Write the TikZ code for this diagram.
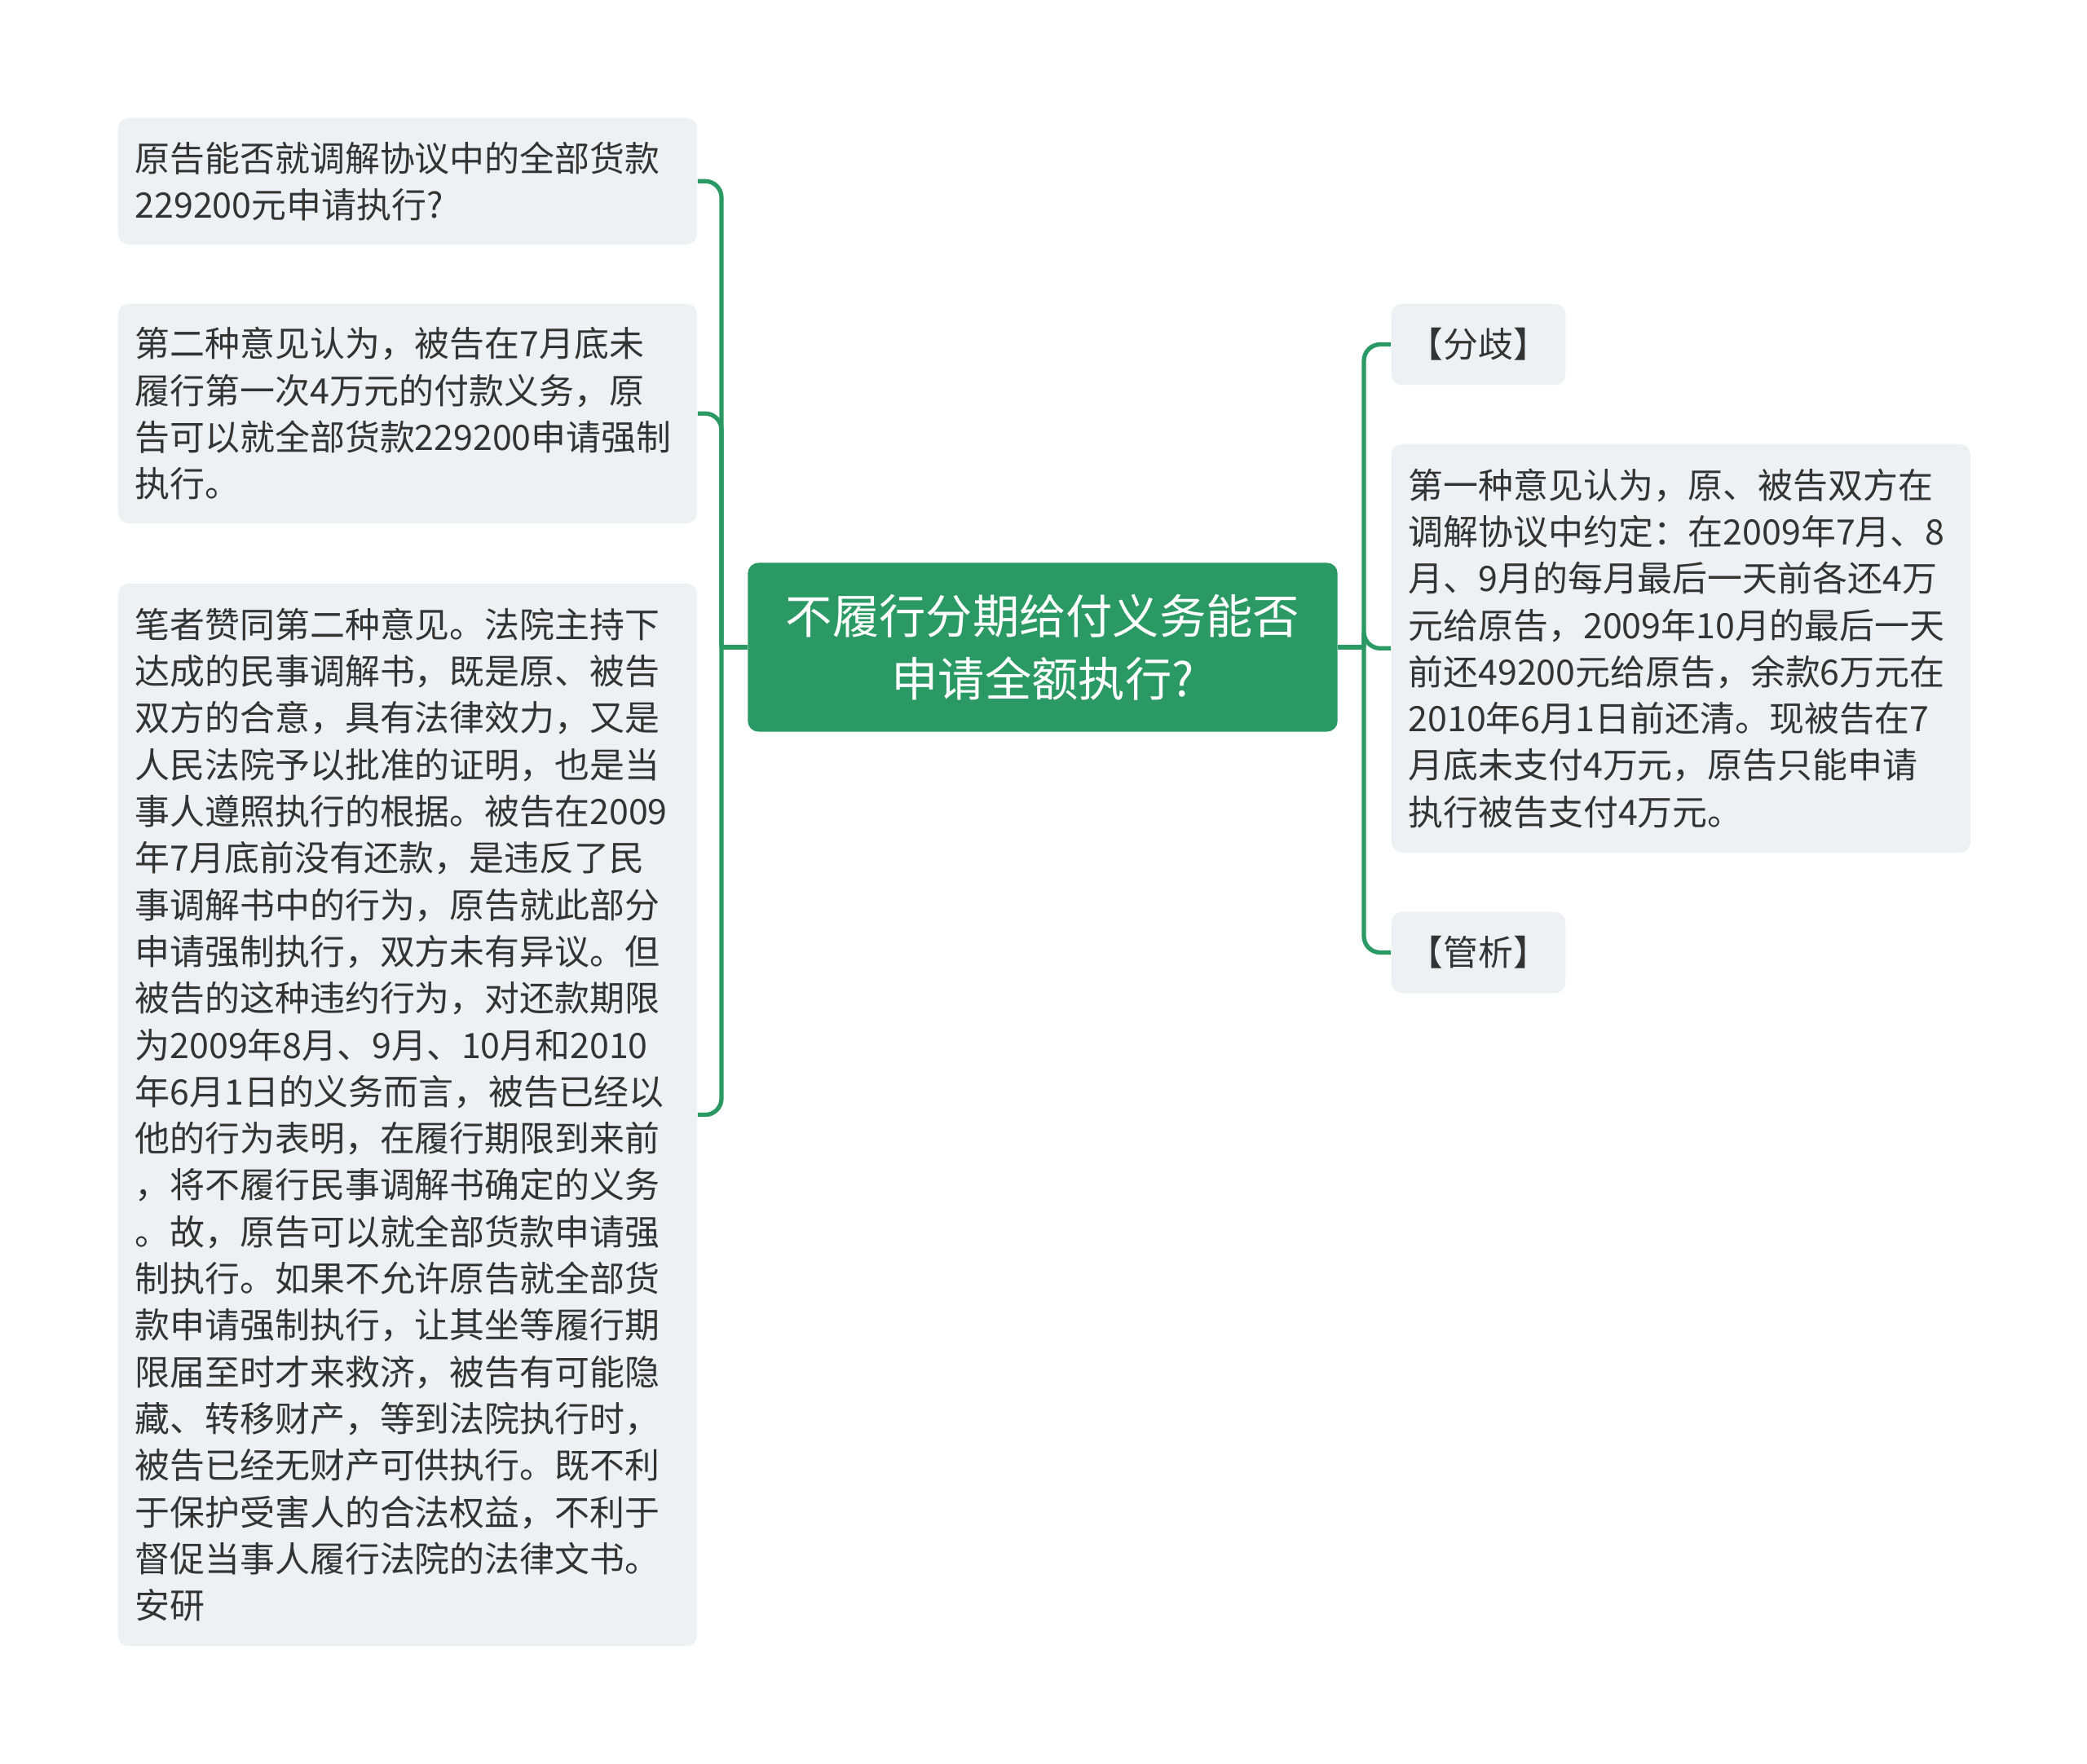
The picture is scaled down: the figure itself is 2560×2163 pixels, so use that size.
\documentclass[tikz,border=0pt]{standalone}
\usepackage{fontspec}
\setmainfont{Noto Sans CJK SC}
\usetikzlibrary{positioning}
\definecolor{mapgreen}{RGB}{42,153,99}
\definecolor{leafgray}{RGB}{238,241,244}
\definecolor{textdark}{RGB}{51,51,51}

\begin{document}
\begin{tikzpicture}[x=0.01cm,y=-0.01cm,
    topic/.style={fill=mapgreen,rounded corners=0.13cm,text=white,align=center,minimum width=7.23cm,minimum height=2.07cm,font=\fontsize{16.3pt}{21.8pt}\selectfont},
    leaf/.style={fill=leafgray,rounded corners=0.13cm,text=textdark,align=left,anchor=north west,inner xsep=0.21cm,font=\fontsize{12.2pt}{16.3pt}\selectfont},
    wideleaf/.style={leaf,text width=6.68cm},
    tagleaf/.style={leaf,align=center,minimum width=2.12cm,minimum height=0.995cm},
    branch/.style={draw=mapgreen,line width=1.5pt,rounded corners=0.2cm}]
            \useasboundingbox (0,0) rectangle (2560,2163);
            %
            \node[topic] (root) at (1279,794) {不履行分期给付义务能否\\申请全额执行?};
            %
            \node[wideleaf,minimum height=1.55cm] (q1) at (144,144) {原告能否就调解协议中的全部货款\\229200元申请执行?};
            \node[wideleaf,minimum height=2.69cm] (q2) at (144,372) {第二种意见认为，被告在7月底未\\履行第一次4万元的付款义务，原\\告可以就全部货款229200申请强制\\执行。};
            \node[wideleaf,minimum height=13.03cm] (q3) at (144,715) {笔者赞同第二种意见。法院主持下\\达成的民事调解书，既是原、被告\\双方的合意，具有法律效力，又是\\人民法院予以批准的证明，也是当\\事人遵照执行的根据。被告在2009\\年7月底前没有还款，是违反了民\\事调解书中的行为，原告就此部分\\申请强制执行，双方未有异议。但\\被告的这种违约行为，对还款期限\\为2009年8月、9月、10月和2010\\年6月1日的义务而言，被告已经以\\他的行为表明，在履行期限到来前\\，将不履行民事调解书确定的义务\\。故，原告可以就全部货款申请强\\制执行。如果不允许原告就全部货\\款申请强制执行，让其坐等履行期\\限届至时才来救济，被告有可能隐\\藏、转移财产，等到法院执行时，\\被告已经无财产可供执行。既不利\\于保护受害人的合法权益，不利于\\督促当事人履行法院的法律文书。\\安研};
            %
            \node[tagleaf] (fenqi) at (1706,372) {【分歧】};
            \node[wideleaf,minimum height=5.01cm] (yijian) at (1706,544) {第一种意见认为，原、被告双方在\\调解协议中约定：在2009年7月、8\\月、9月的每月最后一天前各还4万\\元给原告，2009年10月的最后一天\\前还49200元给原告，余款6万元在\\2010年6月1日前还清。现被告在7\\月底未支付4万元，原告只能申请\\执行被告支付4万元。};
            \node[tagleaf] (guanxi) at (1706,1118) {【管析】};
            %
            \coordinate (jl) at (885,794);
            \coordinate (jr) at (1673,794);
            \draw[branch] (root.west) -- (jl);
            \foreach \n in {q1,q2,q3}
                \draw[branch] (jl) |- (\n.east);
            \draw[branch] (root.east) -- (jr);
            \foreach \n in {fenqi,yijian,guanxi}
                \draw[branch] (jr) |- (\n.west);
            %
\end{tikzpicture}
\end{document}
